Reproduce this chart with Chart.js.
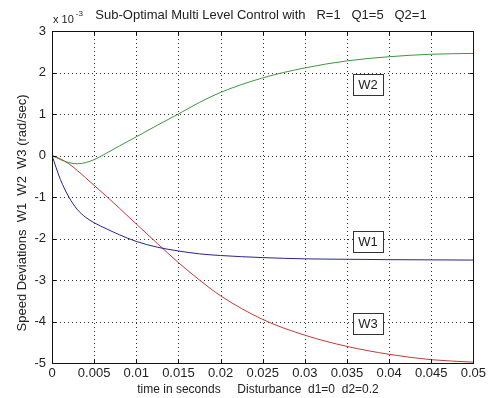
<!DOCTYPE html>
<html>
<head>
<meta charset="utf-8">
<script src="https://cdn.jsdelivr.net/npm/chart.js@4"></script>
<style>
  html, body { margin: 0; padding: 0; background: #fff; }
  #wrap { width: 489px; height: 398px; position: relative; }
</style>
</head>
<body>
<div id="wrap"><canvas id="speedChart"></canvas></div>
<script>
// time samples (seconds)
const timeSec = [0, 0.001, 0.002, 0.003, 0.004, 0.005, 0.0065, 0.008, 0.01, 0.0125,
                 0.015, 0.0175, 0.02, 0.025, 0.03, 0.035, 0.04, 0.045, 0.05];
// speed deviations, in units of 1e-3 rad/sec
const w1Values = [0, -0.58, -1.00, -1.30, -1.49, -1.62, -1.77, -1.91, -2.07, -2.21,
                  -2.30, -2.37, -2.41, -2.46, -2.49, -2.50, -2.51, -2.515, -2.52];
const w2Values = [0, -0.10, -0.17, -0.20, -0.17, -0.10, 0.06, 0.23, 0.45, 0.73,
                  1.00, 1.28, 1.52, 1.87, 2.11, 2.28, 2.38, 2.44, 2.46];
const w3Values = [0, -0.08, -0.20, -0.36, -0.54, -0.72, -0.99, -1.27, -1.65, -2.12,
                  -2.58, -3.00, -3.38, -3.95, -4.33, -4.60, -4.79, -4.92, -4.98];
const xTicks = [0, 0.005, 0.01, 0.015, 0.02, 0.025, 0.03, 0.035, 0.04, 0.045, 0.05];
const yTicks = [-5, -4, -3, -2, -1, 0, 1, 2, 3];
// text labels placed on the curves
const curveLabels = ['W1', 'W2', 'W3'];
const labelTimes = [0.0375, 0.0375, 0.0375];
const labelValues = [-2.08, 1.72, -4.05];

const FONT = 'Liberation Sans, Arial, sans-serif';

function toPoints(values) {
    return timeSec.map((t, i) => ({ x: t, y: values[i] }));
}

// dotted grid under the curves
const dottedGrid = {
    id: 'dottedGrid',
    beforeDatasetsDraw(chart) {
        const ctx = chart.ctx;
        const area = chart.chartArea;
        const xs = chart.scales.x;
        const ys = chart.scales.y;
        ctx.save();
        ctx.strokeStyle = '#333';
        ctx.lineWidth = 1;
        ctx.setLineDash([1, 3]);
        ctx.beginPath();
        xTicks.slice(1, -1).forEach(v => {
            const px = Math.round(xs.getPixelForValue(v)) + 0.5;
            ctx.moveTo(px, area.top);
            ctx.lineTo(px, area.bottom);
        });
        yTicks.slice(1, -1).forEach(v => {
            const py = Math.round(ys.getPixelForValue(v)) + 0.5;
            ctx.moveTo(area.left, py);
            ctx.lineTo(area.right, py);
        });
        ctx.stroke();
        ctx.restore();
    }
};

// axes box, inward tick marks, titles and curve labels
const matlabDecor = {
    id: 'matlabDecor',
    afterDraw(chart) {
        const ctx = chart.ctx;
        const area = chart.chartArea;
        const xs = chart.scales.x;
        const ys = chart.scales.y;
        ctx.save();

        // box
        ctx.strokeStyle = '#111';
        ctx.lineWidth = 1;
        ctx.strokeRect(Math.round(area.left) + 0.5, Math.round(area.top) + 0.5,
                       Math.round(area.right - area.left), Math.round(area.bottom - area.top));

        // inward ticks
        ctx.beginPath();
        xTicks.forEach(v => {
            const px = Math.round(xs.getPixelForValue(v)) + 0.5;
            ctx.moveTo(px, area.bottom); ctx.lineTo(px, area.bottom - 4);
            ctx.moveTo(px, area.top); ctx.lineTo(px, area.top + 4);
        });
        yTicks.forEach(v => {
            const py = Math.round(ys.getPixelForValue(v)) + 0.5;
            ctx.moveTo(area.left, py); ctx.lineTo(area.left + 4, py);
            ctx.moveTo(area.right, py); ctx.lineTo(area.right - 4, py);
        });
        ctx.stroke();

        ctx.fillStyle = '#222';
        // title
        ctx.font = '13px ' + FONT;
        ctx.textAlign = 'center';
        ctx.textBaseline = 'middle';
        ctx.fillText('Sub-Optimal Multi Level Control with   R=1   Q1=5   Q2=1', 261, 15);

        // exponent
        ctx.font = '11px ' + FONT;
        ctx.textAlign = 'left';
        ctx.textBaseline = 'alphabetic';
        ctx.fillText('x 10', area.left + 1, 23);
        const expX = area.left + 1 + ctx.measureText('x 10').width + 2;
        ctx.font = '8px ' + FONT;
        ctx.fillText('-3', expX, 16);

        // x axis title
        ctx.font = '12px ' + FONT;
        ctx.textAlign = 'center';
        ctx.textBaseline = 'middle';
        ctx.fillText('time in seconds     Disturbance  d1=0  d2=0.2', 258, 390);

        // y axis title
        ctx.font = '13px ' + FONT;
        ctx.save();
        ctx.translate(22, 213);
        ctx.rotate(-Math.PI / 2);
        ctx.fillText('Speed Deviations  W1  W2  W3 (rad/sec)', 0, 0);
        ctx.restore();

        // curve labels in boxes
        ctx.font = '13px ' + FONT;
        curveLabels.forEach((txt, i) => {
            const cx = xs.getPixelForValue(labelTimes[i]);
            const cy = ys.getPixelForValue(labelValues[i]);
            const w = 30, h = 21;
            const bx = Math.round(cx - w / 2) + 0.5, by = Math.round(cy - h / 2) + 0.5;
            ctx.fillStyle = '#fff';
            ctx.fillRect(bx, by, w, h);
            ctx.strokeStyle = '#333';
            ctx.strokeRect(bx, by, w, h);
            ctx.fillStyle = '#222';
            ctx.fillText(txt, cx, cy + 1);
        });
        ctx.restore();
    }
};

new Chart(document.getElementById('speedChart'), {
    type: 'line',
    data: {
        datasets: [{
            label: 'W1',
            data: toPoints(w1Values),
            borderColor: '#25258c',
            borderWidth: 1,
            pointRadius: 0,
            cubicInterpolationMode: 'monotone'
        }, {
            label: 'W2',
            data: toPoints(w2Values),
            borderColor: '#3f9442',
            borderWidth: 1,
            pointRadius: 0,
            cubicInterpolationMode: 'monotone'
        }, {
            label: 'W3',
            data: toPoints(w3Values),
            borderColor: '#c23a3a',
            borderWidth: 1,
            pointRadius: 0,
            cubicInterpolationMode: 'monotone'
        }]
    },
    options: {
        responsive: true,
        maintainAspectRatio: false,
        animation: false,
        layout: { padding: { top: 31, right: 15, left: 0, bottom: 0 } },
        plugins: {
            legend: { display: false },
            tooltip: { enabled: false }
        },
        scales: {
            x: {
                type: 'linear',
                min: 0,
                max: 0.05,
                afterFit: scale => { scale.height = 35; },
                afterBuildTicks: scale => { scale.ticks = xTicks.map(v => ({ value: v })); },
                ticks: {
                    color: '#222',
                    font: { family: FONT, size: 13 },
                    padding: 3,
                    maxRotation: 0,
                    autoSkip: false,
                    callback: v => String(v)
                },
                grid: { display: false, drawTicks: false, tickLength: 0 },
                border: { display: false }
            },
            y: {
                type: 'linear',
                min: -5,
                max: 3,
                afterFit: scale => { scale.width = 52; },
                afterBuildTicks: scale => { scale.ticks = yTicks.map(v => ({ value: v })); },
                ticks: {
                    color: '#222',
                    font: { family: FONT, size: 13 },
                    padding: 6,
                    autoSkip: false,
                    callback: v => String(v)
                },
                grid: { display: false, drawTicks: false, tickLength: 0 },
                border: { display: false }
            }
        }
    },
    plugins: [dottedGrid, matlabDecor]
});
</script>
</body>
</html>
